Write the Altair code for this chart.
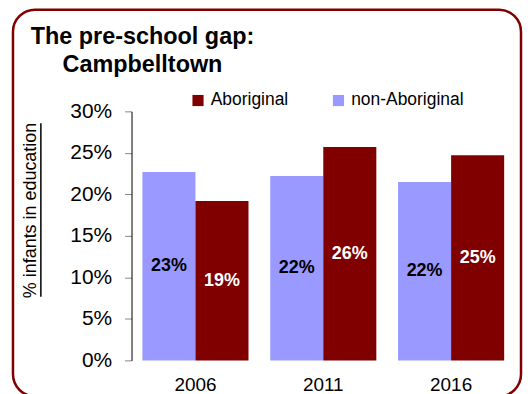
import altair as alt
import pandas as pd

years = ["2006", "2011", "2016"]
non_aboriginal = [22.7, 22.2, 21.5]
aboriginal = [19.2, 25.7, 24.7]
series_names = ["Aboriginal", "non-Aboriginal"]
y_ticks = [0, 5, 10, 15, 20, 25, 30]

rows = []
for i, yr in enumerate(years):
    rows.append({"year": yr, "series": "non-Aboriginal", "value": non_aboriginal[i]})
    rows.append({"year": yr, "series": "Aboriginal", "value": aboriginal[i]})
df = pd.DataFrame(rows)
df["label"] = df["value"].map(lambda v: f"{int(v + 0.5)}%")
df["mid"] = df["value"] / 2

FONT = "Liberation Sans"
RED = "#800000"
LILAC = "#9999FF"

x_enc = alt.X(
    "year:N",
    scale=alt.Scale(paddingInner=0.17, paddingOuter=0.085),
    axis=alt.Axis(title=None, labelAngle=0, domain=False, ticks=False,
                  labelPadding=15, labelFontSize=19, labelColor="black", labelFont=FONT),
)
xoff_enc = alt.XOffset("series:N", scale=alt.Scale(domain=["non-Aboriginal", "Aboriginal"],
                                                    paddingInner=0, paddingOuter=0))

bars = alt.Chart(df).mark_bar().encode(
    x=x_enc,
    xOffset=xoff_enc,
    y=alt.Y(
        "value:Q",
        scale=alt.Scale(domain=[0, 30], nice=False),
        axis=alt.Axis(
            values=y_ticks, labelExpr="datum.value + '%'", grid=False,
            title="% infants in education", titleFontSize=18, titleFontWeight="normal",
            titleFont=FONT, titleColor="black", titleX=-101, titleY=99,
            titleAlign="center", titleBaseline="middle", titleAngle=-90,
            domainColor="black", domainWidth=1, tickColor="#888888", tickSize=7,
            labelPadding=13, labelFontSize=21, labelColor="black", labelFont=FONT,
        ),
    ),
    color=alt.Color(
        "series:N",
        scale=alt.Scale(domain=series_names, range=[RED, LILAC]),
        legend=alt.Legend(
            title=None, orient="none", direction="horizontal", legendX=58, legendY=-20,
            symbolType="square", symbolSize=125, symbolStrokeWidth=0,
            labelFontSize=17.5, labelFont=FONT, labelColor="black", labelOffset=4,
            columnPadding=41,
        ),
    ),
)

labels = alt.Chart(df).mark_text(fontSize=18, fontWeight="bold", font=FONT, baseline="middle").encode(
    x=x_enc,
    xOffset=xoff_enc,
    y=alt.Y("mid:Q"),
    text="label:N",
    color=alt.condition(alt.datum.series == "Aboriginal", alt.value("white"), alt.value("black")),
)

frame_df = pd.DataFrame({"k": [0]})
border = alt.Chart(frame_df).mark_rect(
    fill=None, fillOpacity=0, stroke=RED, strokeWidth=2.5, cornerRadius=22
).encode(
    x=alt.value(-119), x2=alt.value(391), y=alt.value(-102), y2=alt.value(286)
)

underline = alt.Chart(frame_df).mark_rule(color="black", strokeWidth=1.5).encode(
    x=alt.value(-91), y=alt.value(12), y2=alt.value(186)
)

chart = alt.layer(border, bars, labels, underline).properties(
    width=385,
    height=250,
    autosize=alt.AutoSizeParams(type="none"),
    padding={"left": 124, "top": 103, "right": 8, "bottom": 33},
    title=alt.Title(
        ["The pre-school gap:", "Campbelltown"],
        anchor="start", align="center", frame="group", dx=11, dy=72,
        fontSize=23.5, fontWeight="bold", font=FONT, color="black", lineHeight=27.5,
    ),
).configure_view(stroke=None)

chart.save("out.html", embed_options={"renderer": "svg", "actions": False})
